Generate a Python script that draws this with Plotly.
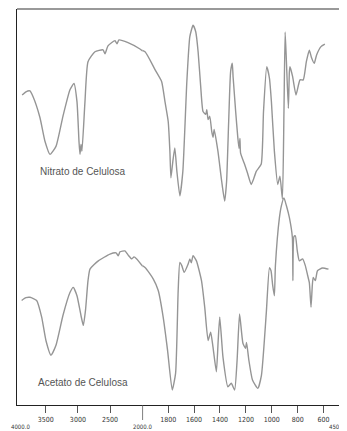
import plotly.graph_objects as go

# ---------------- data (wavenumber cm-1, relative transmittance) ----------------
nitrato_wn = [3865, 3806, 3744, 3697, 3589, 3511, 3433, 3340, 3232, 3123, 3061, 3014, 2983, 2968,
              2952, 2937, 2890, 2843, 2735, 2610, 2579, 2533, 2424, 2393, 2362, 2222, 2036, 1979,
              1902, 1851, 1825, 1800, 1787, 1779, 1764, 1749, 1733, 1710, 1687, 1656, 1633, 1608,
              1587, 1569, 1549, 1531, 1510, 1502, 1492, 1479, 1464, 1454, 1445, 1416, 1387, 1364,
              1349, 1333, 1318, 1305, 1299, 1295, 1279, 1262, 1253, 1246, 1241, 1210, 1187, 1159,
              1141, 1120, 1082, 1064, 1039, 1018, 1003, 980, 954, 937, 918, 906, 897, 887, 872,
              864, 859, 839, 813, 782, 757, 733, 710, 695, 672, 654, 620, 590]
nitrato_t = [78.3, 79.1, 79.3, 77.9, 72.6, 66.6, 63.3, 65.3, 72.9, 79.6, 81.2, 76.6, 66.6, 63.3,
             65.8, 64.1, 76.6, 86.7, 89.2, 89.7, 88.7, 90.7, 92.0, 91.2, 92.2, 91.5, 89.9, 89.2,
             84.7, 81.7, 76.6, 71.6, 64.1, 57.4, 61.6, 64.9, 59.0, 52.8, 59.0, 81.7, 93.0, 95.9,
             94.2, 89.2, 80.4, 74.1, 73.4, 74.6, 72.1, 72.9, 69.1, 67.6, 69.6, 64.1, 56.5, 51.5,
             56.5, 71.6, 84.2, 86.3, 82.9, 81.2, 74.1, 67.4, 64.8, 67.3, 63.6, 60.8, 58.5, 55.7,
             57.0, 59.0, 60.8, 74.1, 85.4, 82.5, 76.6, 64.1, 55.7, 57.8, 52.0, 74.1, 94.2, 86.7, 74.9,
             84.2, 85.4, 82.9, 78.3, 82.1, 82.1, 86.7, 89.6, 87.9, 86.3, 88.4, 90.5, 91.1]

acetato_wn = [3873, 3806, 3744, 3640, 3562, 3496, 3418, 3340, 3232, 3123, 3072, 3014, 2952, 2916,
              2882, 2843, 2812, 2683, 2502, 2408, 2373, 2346, 2269, 2222, 2165, 2129, 2087, 1979,
              1915, 1877, 1839, 1805, 1769, 1743, 1723, 1710, 1695, 1677, 1646, 1633, 1622, 1608,
              1582, 1543, 1518, 1492, 1472, 1454, 1428, 1414, 1402, 1377, 1339, 1313, 1287, 1268,
              1249, 1223, 1203, 1195, 1177, 1149, 1108, 1080, 1043, 1018, 1006, 993, 980, 972,
              941, 926, 906, 887, 864, 841, 837, 829, 818, 803, 787, 762, 741, 723, 710, 697,
              687, 680, 664, 647, 608, 562]
acetato_t = [26.4, 27.1, 27.2, 26.4, 22.2, 16.3, 12.6, 15.1, 22.6, 28.4, 29.7, 27.6, 22.6, 20.1,
             23.9, 31.4, 34.3, 36.4, 38.1, 38.4, 37.7, 38.7, 38.9, 37.9, 36.9, 37.4, 36.9, 34.7,
             31.8, 28.9, 22.2, 13.8, 3.8, 8.0, 28.9, 36.0, 35.2, 33.5, 35.6, 36.9, 35.9, 37.7,
             36.4, 31.4, 24.7, 16.3, 18.4, 14.6, 8.4, 16.3, 22.2, 12.1, 4.6, 5.5, 3.8, 11.3,
             23.0, 15.6, 14.3, 15.8, 11.3, 6.3, 4.2, 7.5, 23.0, 34.7, 33.9, 30.2, 27.6, 35.2,
             47.3, 50.3, 52.3, 50.3, 47.3, 42.3, 31.4, 42.5, 42.7, 38.9, 36.4, 36.9, 35.2, 32.7, 30.9, 24.7,
             30.2, 32.2, 31.4, 33.9, 34.6, 34.3]

series_names = ["Nitrato de Celulosa", "Acetato de Celulosa"]
left_ticks = [3500, 3000, 2500]
right_ticks = [1800, 1600, 1400, 1200, 1000, 800, 600]
edge_labels = ["4000.0", "2000.0", "450.0"]
BREAK = 2000

# ---------------- figure ----------------
LINE = dict(color="#959595", width=1.4, shape="spline", smoothing=0.5)
fig = go.Figure()


def split(wn, t):
    left_idx = [i for i, w in enumerate(wn) if w >= BREAK]
    right_idx = [i for i, w in enumerate(wn) if w <= BREAK]
    if left_idx and left_idx[-1] + 1 < len(wn):
        left_idx.append(left_idx[-1] + 1)
    if right_idx and right_idx[0] - 1 >= 0:
        right_idx.insert(0, right_idx[0] - 1)
    return ([wn[i] for i in left_idx], [t[i] for i in left_idx],
            [wn[i] for i in right_idx], [t[i] for i in right_idx])


for name, wn, t in [(series_names[0], nitrato_wn, nitrato_t), (series_names[1], acetato_wn, acetato_t)]:
    lx, ly, rx, ry = split(wn, t)
    fig.add_trace(go.Scatter(x=lx, y=ly, mode="lines", line=LINE, xaxis="x", yaxis="y",
                             showlegend=False, name=name, hoverinfo="skip"))
    fig.add_trace(go.Scatter(x=rx, y=ry, mode="lines", line=LINE, xaxis="x2", yaxis="y",
                             showlegend=False, name=name, hoverinfo="skip"))

SPLIT = 0.3844
tickfont = dict(family="Liberation Sans Narrow, DejaVu Sans Condensed, Arial Narrow, sans-serif",
                size=7, color="#333333")
common_x = dict(showgrid=False, zeroline=False, showline=True, linecolor="#222222", linewidth=1.2,
                ticks="outside", ticklen=7, tickwidth=1.2, tickcolor="#555555", tickfont=tickfont,
                anchor="y", automargin=False)

# page body adds an 8px margin, so the figure is 8px smaller and margins are shifted
fig.update_layout(
    template="none",
    width=339, height=423,
    margin=dict(l=9, r=4, t=1, b=26, autoexpand=False),
    paper_bgcolor="white", plot_bgcolor="white",
    xaxis=dict(domain=[0, SPLIT], range=[3945, BREAK], tickvals=left_ticks,
               ticktext=[str(v) for v in left_ticks], **common_x),
    xaxis2=dict(domain=[SPLIT, 1], range=[BREAK, 450], tickvals=right_ticks,
                ticktext=[str(v) for v in right_ticks], **common_x),
    yaxis=dict(range=[0, 100], showgrid=False, zeroline=False, showticklabels=False,
               showline=True, linecolor="#222222", linewidth=1.2, mirror=False, ticks="",
               automargin=False),
)

# frame: right border and grey top border
fig.add_shape(type="line", xref="paper", yref="paper", x0=1, x1=1, y0=0, y1=1,
              line=dict(color="#222222", width=1.2))
fig.add_shape(type="line", xref="paper", yref="paper", x0=0, x1=1, y0=1, y1=1,
              line=dict(color="#777777", width=1.5))
# long tick at the scale break
fig.add_shape(type="line", xref="x2", yref="paper", x0=BREAK, x1=BREAK, y0=0, y1=-0.038,
              line=dict(color="#555555", width=1.5))

# edge labels
edge_font = dict(family=tickfont["family"], size=6, color="#333333")
for lab, xr, xv, xa, xs in [(edge_labels[0], "paper", 0, "left", -8),
                            (edge_labels[1], "x2", BREAK, "center", 0),
                            (edge_labels[2], "paper", 1, "right", 4)]:
    fig.add_annotation(text=lab, xref=xr, x=xv, yref="paper", y=-0.055, yanchor="middle",
                       xanchor=xa, xshift=xs, showarrow=False, font=edge_font)

# series labels
label_font = dict(family="Liberation Sans, Arial, sans-serif", size=10, color="#555555")
fig.add_annotation(text=series_names[0], xref="x", x=2921, yref="y", y=59.0, showarrow=False,
                   font=label_font)
fig.add_annotation(text=series_names[1], xref="x", x=2921, yref="y", y=5.8, showarrow=False,
                   font=label_font)

fig.write_html("out.html")
